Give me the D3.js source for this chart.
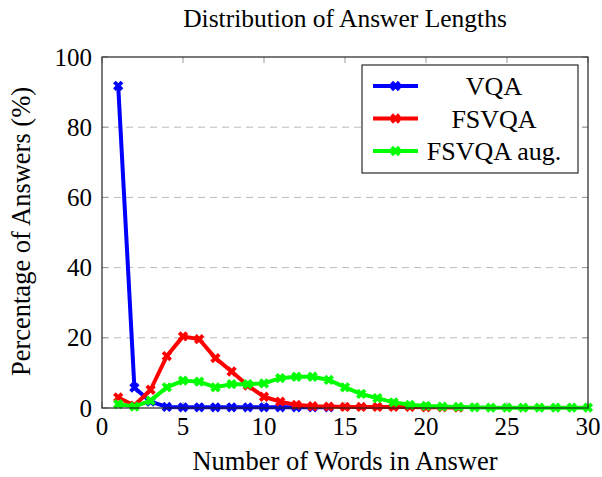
<!DOCTYPE html>
<html>
<head>
<meta charset="utf-8">
<script src="https://cdn.jsdelivr.net/npm/d3@7"></script>
<style>
  body { margin: 0; background: #fff; }
  text { font-family: "Liberation Serif", "DejaVu Serif", serif; fill: #000; }
</style>
</head>
<body>
<svg id="chart"></svg>
<script>
// Data
const words = d3.range(1, 31);
const vqa = [91.8, 5.8, 1.8, 0.3, 0.2, 0.2, 0.2, 0.2, 0.2, 0.2, 0.2, 0.2, 0.2, 0.2];
const fsvqa = [3.0, 0.7, 5.2, 14.8, 20.4, 19.6, 14.2, 10.4, 6.4, 3.2, 1.8, 0.9, 0.5, 0.4,
               0.3, 0.3, 0.3, 0.3, 0.3, 0.2, 0.2, 0.1];
const fsvqaAug = [1.1, 0.4, 2.1, 5.9, 7.8, 7.5, 5.9, 6.8, 6.8, 7.0, 8.5, 8.9, 8.9, 8.0, 5.9,
                  4.0, 2.8, 1.6, 0.9, 0.6, 0.4, 0.3, 0.2, 0.1, 0.1, 0.1, 0.1, 0.1, 0.1, 0.1];
const xTicks = [0, 5, 10, 15, 20, 25, 30];
const yTicks = [0, 20, 40, 60, 80, 100];

const series = [
  { name: 'VQA', color: '#0000ff', values: vqa },
  { name: 'FSVQA', color: '#ff0000', values: fsvqa },
  { name: 'FSVQA aug.', color: '#00ff00', values: fsvqaAug }
];

const width = 602, height = 477;
const margin = { top: 57, right: 14, bottom: 69, left: 102 };

const svg = d3.select('#chart').attr('width', width).attr('height', height);

const x = d3.scaleLinear().domain([0, 30]).range([margin.left, width - margin.right]);
const y = d3.scaleLinear().domain([0, 100]).range([height - margin.bottom, margin.top]);

// Grid lines
svg.append('g')
  .selectAll('line')
  .data(yTicks.filter(d => d > 0 && d < 100))
  .join('line')
  .attr('x1', x(0)).attr('x2', x(30))
  .attr('y1', d => y(d)).attr('y2', d => y(d))
  .attr('stroke', '#bbb')
  .attr('stroke-width', 1)
  .attr('stroke-dasharray', '7,5');

// Tick marks on all four sides
const tickLen = 6;
const ticks = svg.append('g').attr('stroke', '#999').attr('stroke-width', 1);
xTicks.forEach(t => {
  ticks.append('line').attr('x1', x(t)).attr('x2', x(t)).attr('y1', y(0)).attr('y2', y(0) - tickLen);
  ticks.append('line').attr('x1', x(t)).attr('x2', x(t)).attr('y1', y(100)).attr('y2', y(100) + tickLen);
});
yTicks.forEach(t => {
  ticks.append('line').attr('x1', x(0)).attr('x2', x(0) + tickLen).attr('y1', y(t)).attr('y2', y(t));
  ticks.append('line').attr('x1', x(30)).attr('x2', x(30) - tickLen).attr('y1', y(t)).attr('y2', y(t));
});

// Lines and markers
const line = d3.line()
  .x((d, i) => x(words[i]))
  .y(d => y(d));

function crossPath(cx, cy, s) {
  return `M${cx - s},${cy - s}L${cx + s},${cy + s}M${cx - s},${cy + s}L${cx + s},${cy - s}`;
}

series.forEach(s => {
  const g = svg.append('g');
  g.append('path')
    .datum(s.values)
    .attr('d', line)
    .attr('fill', 'none')
    .attr('stroke', s.color)
    .attr('stroke-width', 4)
    .attr('stroke-linejoin', 'round');
  g.selectAll('path.mark')
    .data(s.values)
    .join('path')
    .attr('class', 'mark')
    .attr('d', (d, i) => crossPath(x(words[i]), y(d), 3.8))
    .attr('stroke', s.color)
    .attr('stroke-width', 3.8);
});

// Frame
svg.append('rect')
  .attr('x', x(0)).attr('y', y(100))
  .attr('width', x(30) - x(0)).attr('height', y(0) - y(100))
  .attr('fill', 'none')
  .attr('stroke', '#222')
  .attr('stroke-width', 1.2);

// Tick labels
svg.append('g')
  .selectAll('text')
  .data(xTicks)
  .join('text')
  .attr('x', d => x(d))
  .attr('y', y(0) + 27)
  .attr('text-anchor', 'middle')
  .attr('font-size', 25)
  .text(d => d);

svg.append('g')
  .selectAll('text')
  .data(yTicks)
  .join('text')
  .attr('x', x(0) - 10)
  .attr('y', d => y(d) + 8.5)
  .attr('text-anchor', 'end')
  .attr('font-size', 25)
  .text(d => d);

// Title and axis labels
svg.append('text')
  .attr('x', (x(0) + x(30)) / 2)
  .attr('y', 27)
  .attr('text-anchor', 'middle')
  .attr('font-size', 25.5)
  .text('Distribution of Answer Lengths');

svg.append('text')
  .attr('x', (x(0) + x(30)) / 2)
  .attr('y', 470)
  .attr('text-anchor', 'middle')
  .attr('font-size', 26.5)
  .text('Number of Words in Answer');

svg.append('text')
  .attr('transform', `translate(29.5, ${(y(0) + y(100)) / 2 - 1}) rotate(-90)`)
  .attr('text-anchor', 'middle')
  .attr('font-size', 26.5)
  .text('Percentage of Answers (%)');

// Legend
const legend = svg.append('g');
legend.append('rect')
  .attr('x', 362).attr('y', 65)
  .attr('width', 216).attr('height', 108)
  .attr('fill', '#fff')
  .attr('stroke', '#000')
  .attr('stroke-width', 1);

series.forEach((s, i) => {
  const ly = 86 + i * 32.5;
  legend.append('line')
    .attr('x1', 373).attr('x2', 418)
    .attr('y1', ly).attr('y2', ly)
    .attr('stroke', s.color)
    .attr('stroke-width', 4);
  legend.append('path')
    .attr('d', crossPath(395.5, ly, 3.8))
    .attr('stroke', s.color)
    .attr('stroke-width', 3.8);
  legend.append('text')
    .attr('x', 494)
    .attr('y', ly + 9)
    .attr('text-anchor', 'middle')
    .attr('font-size', 26)
    .text(s.name);
});
</script>
</body>
</html>
